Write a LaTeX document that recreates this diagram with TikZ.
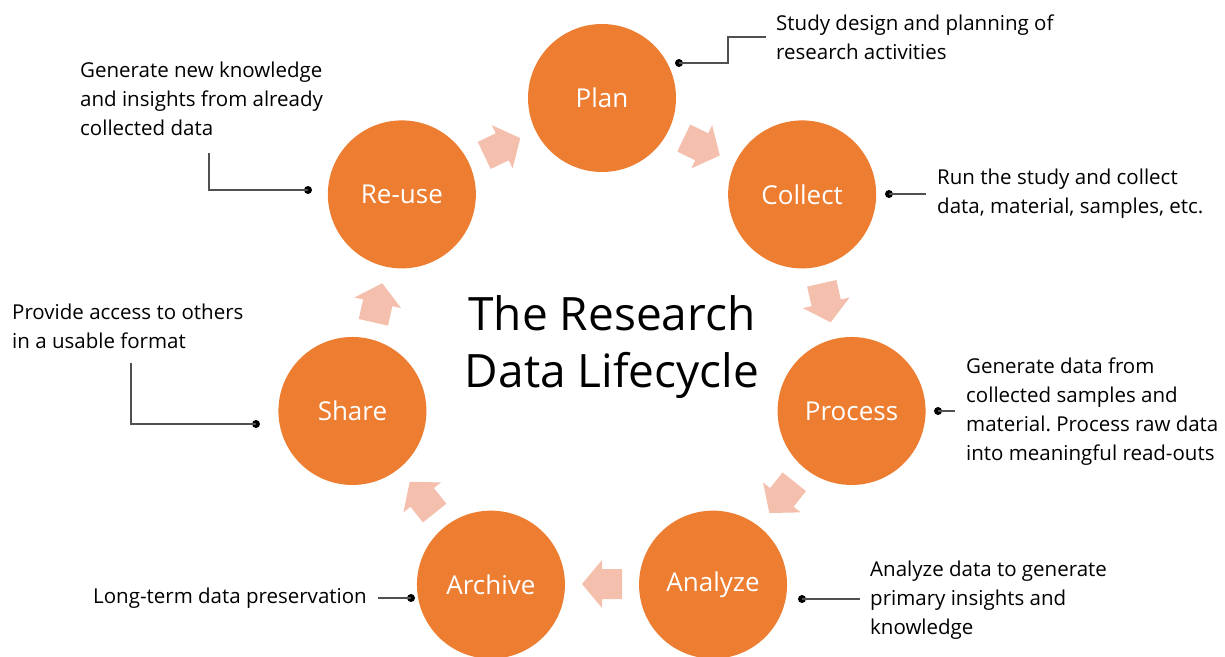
\documentclass[tikz,border=0pt]{standalone}
\usepackage{fontspec}
\setmainfont{Open Sans}
\frenchspacing
\definecolor{stageorange}{HTML}{ED7D31}
\definecolor{flowarrow}{HTML}{F4BFAC}
\definecolor{leader}{HTML}{505050}
\begin{document}
\begin{tikzpicture}[x=1pt,y=1pt,
  stage/.style={circle, fill=stageorange, minimum size=148pt, inner sep=0pt,
    text=white, font=\fontsize{26}{30}\selectfont},
  note/.style={align=left, inner sep=0pt, font=\fontsize{20.5}{29}\selectfont},
  leaderline/.style={draw=leader, line width=1.1pt},
  dotend/.style={circle, fill=black, inner sep=0pt, minimum size=8pt},
  flow/.style={fill=flowarrow},
]
\useasboundingbox (0,0) rectangle (1225,-656);

% stages on a ring around the title
\begin{scope}[shift={(602,-354)}]
  \node[stage] (plan)    at (90:256)      {Plan};
  \node[stage] (collect) at (38.57:256)   {Collect};
  \node[stage] (process) at (-12.86:256)  {Process};
  \node[stage] (analyze) at (-64.29:256)  {Analyze};
  \node[stage] (archive) at (-115.71:256) {Archive};
  \node[stage] (share)   at (-167.14:256) {Share};
  \node[stage] (reuse)   at (141.43:256)  {Re-use};
  % block arrows between neighbouring stages, pointing clockwise
  \foreach \a in {64.29,12.86,-38.57,-90,-141.43,167.14,115.71}{
    \fill[flow, shift={(\a:230)}, rotate=\a-90]
      (-20,15) -- (0,15) -- (0,24) -- (20,0) -- (0,-24) -- (0,-15) -- (-20,-15) -- cycle;
  }
\end{scope}

% title
\node[align=center, inner sep=0pt, font=\fontsize{46}{57}\selectfont] (title) at (612,-347)
  {The Research\\Data Lifecycle};

% Plan
\node[note, anchor=west] (nplan) at (776,-37) {Study design and planning of\\research activities};
\node[dotend] (dplan) at (679,-63) {};
\draw[leaderline] (dplan.center) -- (728,-63) |- ([xshift=-10pt]nplan.west);

% Collect
\node[note, anchor=west] (ncollect) at (937,-194) {Run the study and collect\\data, material, samples, etc.};
\node[dotend] (dcollect) at (889,-194) {};
\draw[leaderline] (dcollect.center) -- ([xshift=-11pt]ncollect.west);

% Process
\node[note, anchor=west] (nprocess) at (966,-412) {Generate data from\\collected samples and\\material. Process raw data\\into meaningful read-outs};
\node[dotend] (dprocess) at (938,-411) {};
\draw[leaderline] (dprocess.center) -- ([xshift=-11pt]nprocess.west |- dprocess.center);

% Analyze
\node[note, anchor=west] (nanalyze) at (870,-600) {Analyze data to generate\\primary insights and\\knowledge};
\node[dotend] (danalyze) at (802,-599) {};
\draw[leaderline] (danalyze.center) -- ([xshift=-10pt]nanalyze.west |- danalyze.center);

% Archive
\node[note, anchor=east] (narchive) at (367,-598) {Long-term data preservation};
\node[dotend] (darchive) at (411,-598) {};
\draw[leaderline] ([xshift=11pt]narchive.east) -- (darchive.center);

% Share
\node[note, anchor=north west] (nshare) at (12,-304) {Provide access to others\\in a usable format};
\node[dotend] (dshare) at (256,-424) {};
\coordinate (eshare) at (131,-363);
\draw[leaderline] (dshare.center) -| (eshare);

% Re-use
\node[note, anchor=north west] (nreuse) at (80,-62) {Generate new knowledge\\and insights from already\\collected data};
\node[dotend] (dreuse) at (308,-190) {};
\coordinate (ereuse) at (209,-153);
\draw[leaderline] (dreuse.center) -| (ereuse);
\end{tikzpicture}
\end{document}
